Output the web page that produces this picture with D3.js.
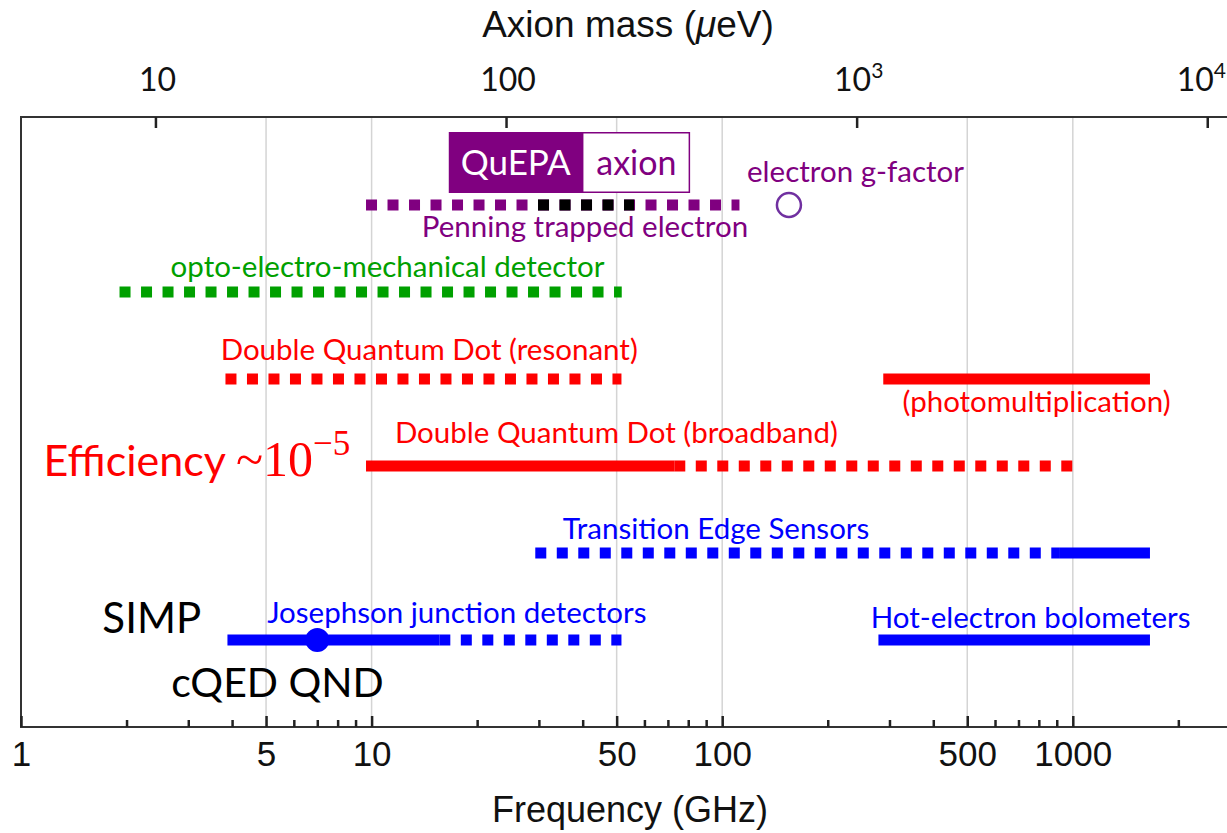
<!DOCTYPE html>
<html>
<head>
<meta charset="utf-8">
<script src="https://cdnjs.cloudflare.com/ajax/libs/d3/7.8.5/d3.min.js"></script>
<style>
  html, body { margin: 0; padding: 0; background: #fff; }
  svg { display: block; }
</style>
</head>
<body>
<svg id="chart" width="1227" height="833"></svg>
<script>
// ---------------- DATA ----------------
const freqDomain = [1, 2800];                 // GHz, bottom axis extent
const GHZ_TO_UEV = 4.1357;                    // 1 GHz photon = 4.1357 µeV
const majorFreqTicks = [1, 5, 10, 50, 100, 500, 1000];
const minorFreqTicks = [2, 3, 4, 6, 7, 8, 9, 20, 30, 40, 60, 70, 80, 90, 200, 300, 400, 600, 700, 800, 900, 2000];
const gridFreqs = [5, 10, 50, 100, 500, 1000];
const massTicks = [10, 100, 1000, 10000];
const massTickBase = ["10", "100", "10", "10"];
const massTickExp = ["", "", "3", "4"];

const rowNames = ["Penning", "Opto", "DQD resonant", "DQD broadband", "TES", "JJ"];

// detector frequency ranges (GHz)
const segRow   = ["Penning", "Penning", "Opto", "DQD resonant", "DQD resonant", "DQD broadband", "DQD broadband", "TES", "TES", "JJ", "JJ", "JJ"];
const segFrom  = [9.64, 28.8, 1.91, 3.83, 288, 9.64, 73, 29.3, 919, 3.88, 15.6, 279];
const segTo    = [112, 56.1, 51.7, 51.6, 1660, 73, 1050, 919, 1660, 15.6, 51.6, 1660];
const segKind  = ["projected", "projected", "projected", "projected", "demonstrated", "demonstrated", "projected", "projected", "demonstrated", "demonstrated", "projected", "demonstrated"];
const segGroup = ["penning", "quepa", "opto", "dqd", "dqd", "dqd", "dqd", "blue", "blue", "blue", "blue", "blue"];

// single-point results
const pointRow   = ["Penning", "JJ"];
const pointFreq  = [155, 7.0];
const pointKind  = ["open", "filled"];
const pointGroup = ["gfactor", "blue"];

// labels
const labelText  = ["Penning trapped electron", "electron g-factor", "opto-electro-mechanical detector",
                    "Double Quantum Dot (resonant)", "(photomultiplication)", "Double Quantum Dot (broadband)",
                    "Transition Edge Sensors", "Josephson junction detectors", "Hot-electron bolometers",
                    "SIMP", "cQED QND"];
const labelFreq  = [40.6, 240, 11.1, 14.6, 788, 49.9, 96, 17.5, 758, 2.36, 5.39];
const labelRow   = ["Penning", "Penning", "Opto", "DQD resonant", "DQD resonant", "DQD broadband", "TES", "JJ", "JJ", "JJ", "JJ"];
const labelGroup = ["penning", "penning", "opto", "dqd", "dqd", "dqd", "blue", "blue", "blue", "black", "black"];

const efficiencyText = ["Efficiency ", "~10", "\u22125"];
const efficiencyFreq = 1.16;
const quepaText = ["QuEPA", "axion"];
const quepaFreqs = [16.6, 40.0, 81.0];  // box left, split, right

// ---------------- STYLE / LAYOUT ----------------
const colors = {
  penning: "#800080", quepa: "#000000", opto: "#00a000", dqd: "#ff0000",
  blue: "#0000ff", gfactor: "#7030a0", black: "#000000"
};
const labelDy = [32, -23, -15, -19, 33, -23, -14, -17, -12, -7, 57];
const labelSize = [29.5, 29.5, 29.5, 29.5, 29.5, 29.5, 29.5, 29.5, 29.5, 42, 41];
const calibri = "Lato, 'Open Sans', sans-serif";
const arial = "'Liberation Sans', Arial, sans-serif";
const serif = "'Liberation Serif', 'DejaVu Serif', serif";
const DASH = 11, GAP = 10.5;

const W = 1227, H = 833;
const plotTop = 117, plotBottom = 727, plotLeft = 21;
const pxPerDecade = 350.6;

const svg = d3.select("#chart");
svg.append("rect").attr("width", W).attr("height", H).attr("fill", "#fff");

const x = d3.scaleLog().domain(freqDomain)
  .range([plotLeft, plotLeft + pxPerDecade * Math.log10(freqDomain[1] / freqDomain[0])]);
const xMass = d3.scaleLog().domain(freqDomain.map(f => f * GHZ_TO_UEV)).range(x.range());
const y = d3.scalePoint().domain(rowNames).range([205, 640]);

// gridlines
svg.append("g").selectAll("line").data(gridFreqs).join("line")
  .attr("x1", d => x(d)).attr("x2", d => x(d))
  .attr("y1", plotTop).attr("y2", plotBottom)
  .attr("stroke", "#d4d4d4").attr("stroke-width", 1.5);

// frame
svg.append("rect")
  .attr("x", plotLeft).attr("y", plotTop)
  .attr("width", x.range()[1] - plotLeft).attr("height", plotBottom - plotTop)
  .attr("fill", "none").attr("stroke", "#333").attr("stroke-width", 2);

// bottom axis (ticks inside)
const axMinor = d3.axisBottom(x).tickValues(minorFreqTicks).tickSizeInner(-7).tickSizeOuter(0).tickFormat("");
const axMajor = d3.axisBottom(x).tickValues(majorFreqTicks).tickSizeInner(-11).tickSizeOuter(0)
  .tickPadding(14).tickFormat(d3.format("d"));
[axMinor, axMajor].forEach(ax => {
  const g = svg.append("g").attr("transform", `translate(0,${plotBottom})`).call(ax);
  g.attr("font-family", arial);
  g.select(".domain").remove();
  g.selectAll(".tick line").attr("stroke", "#222").attr("stroke-width", 2.5);
  g.selectAll(".tick text").style("font-family", arial).attr("font-size", 35).attr("fill", "#111");
});

// top axis (ticks inside)
const axTop = d3.axisTop(xMass).tickValues(massTicks).tickSizeInner(-11).tickSizeOuter(0).tickFormat("");
const gTop = svg.append("g").attr("transform", `translate(0,${plotTop})`).call(axTop);
gTop.select(".domain").remove();
gTop.selectAll(".tick line").attr("stroke", "#222").attr("stroke-width", 2.5);
const topLab = svg.append("g").selectAll("text").data(massTicks).join("text")
  .attr("y", 91)
  .attr("text-anchor", "start")
  .attr("font-family", calibri).attr("font-size", 32).attr("fill", "#111");
topLab.append("tspan").attr("class", "base").text((d, i) => massTickBase[i]);
topLab.append("tspan").attr("font-size", 21).attr("dy", -13).text((d, i) => massTickExp[i]);
topLab.each(function (d, i) {
  const sel = d3.select(this);
  const bw = sel.select(".base").node().getComputedTextLength();
  const total = this.getComputedTextLength();
  const shift = massTickExp[i] ? -4 : 2;
  const xs = Math.min(xMass(d) - bw / 2 + shift, W - total - 1);
  sel.attr("x", xs);
});

// axis titles
svg.append("text").attr("x", 628).attr("y", 37).attr("text-anchor", "middle")
  .style("font-family", arial).attr("font-size", 37).attr("fill", "#111")
  .html("Axion mass (<tspan font-style='italic'>\u03bc</tspan>eV)");
svg.append("text").attr("x", 630).attr("y", 822).attr("text-anchor", "middle")
  .style("font-family", arial).attr("font-size", 36).attr("fill", "#111")
  .text("Frequency (GHz)");

// QuEPA box
const boxTop = y("Penning") - 73, boxH = 61;
svg.append("rect").attr("x", x(quepaFreqs[0])).attr("y", boxTop)
  .attr("width", x(quepaFreqs[1]) - x(quepaFreqs[0])).attr("height", boxH)
  .attr("fill", colors.penning);
svg.append("rect").attr("x", x(quepaFreqs[1])).attr("y", boxTop + 0.75)
  .attr("width", x(quepaFreqs[2]) - x(quepaFreqs[1]) - 0.75).attr("height", boxH - 1.5)
  .attr("fill", "#fff").attr("stroke", colors.penning).attr("stroke-width", 1.5);
svg.append("text").attr("x", (x(quepaFreqs[0]) + x(quepaFreqs[1])) / 2).attr("y", boxTop + 43)
  .attr("text-anchor", "middle").attr("font-family", calibri).attr("font-size", 35)
  .attr("fill", "#fff").text(quepaText[0]);
svg.append("text").attr("x", (x(quepaFreqs[1]) + x(quepaFreqs[2])) / 2).attr("y", boxTop + 43)
  .attr("text-anchor", "middle").attr("font-family", calibri).attr("font-size", 34)
  .attr("fill", colors.penning).text(quepaText[1]);

// segments
const segs = segRow.map((r, i) => ({ row: r, from: segFrom[i], to: segTo[i], kind: segKind[i], group: segGroup[i] }));
// align dash phase of overlapping projected segments within a row
const rowDashStart = {};
segs.forEach(s => {
  if (s.kind === "projected" && !(s.row in rowDashStart)) rowDashStart[s.row] = x(s.from);
});
const period = DASH + GAP;
svg.append("g").selectAll("line").data(segs).join("line")
  .attr("x1", d => x(d.from)).attr("x2", d => x(d.to))
  .attr("y1", d => y(d.row)).attr("y2", d => y(d.row))
  .attr("stroke", d => colors[d.group])
  .attr("stroke-width", 11)
  .attr("stroke-dasharray", d => d.kind === "projected" ? `${DASH},${GAP}` : null)
  .attr("stroke-dashoffset", d => {
    if (d.kind !== "projected") return null;
    const off = ((x(d.from) - rowDashStart[d.row]) % period + period) % period;
    return off;
  });

// points
const pts = pointRow.map((r, i) => ({ row: r, f: pointFreq[i], kind: pointKind[i], group: pointGroup[i] }));
svg.append("g").selectAll("circle").data(pts).join("circle")
  .attr("cx", d => x(d.f)).attr("cy", d => y(d.row))
  .attr("r", 12)
  .attr("fill", d => d.kind === "filled" ? colors[d.group] : "none")
  .attr("stroke", d => colors[d.group])
  .attr("stroke-width", d => d.kind === "filled" ? 0 : 2.5);

// labels
svg.append("g").selectAll("text").data(labelText).join("text")
  .attr("x", (d, i) => x(labelFreq[i]))
  .attr("y", (d, i) => y(labelRow[i]) + labelDy[i])
  .attr("text-anchor", "middle")
  .attr("font-family", calibri)
  .attr("font-size", (d, i) => labelSize[i])
  .attr("fill", (d, i) => colors[labelGroup[i]])
  .text(d => d);

// Efficiency annotation
const eff = svg.append("text").attr("x", x(efficiencyFreq)).attr("y", y("DQD broadband") + 10)
  .attr("fill", colors.dqd).attr("font-family", calibri).attr("font-size", 43);
eff.append("tspan").text(efficiencyText[0]);
eff.append("tspan").attr("font-family", serif).attr("font-size", 50).text(efficiencyText[1]);
eff.append("tspan").attr("font-family", serif).attr("font-size", 35).attr("dy", -21).text(efficiencyText[2]);
</script>
</body>
</html>
